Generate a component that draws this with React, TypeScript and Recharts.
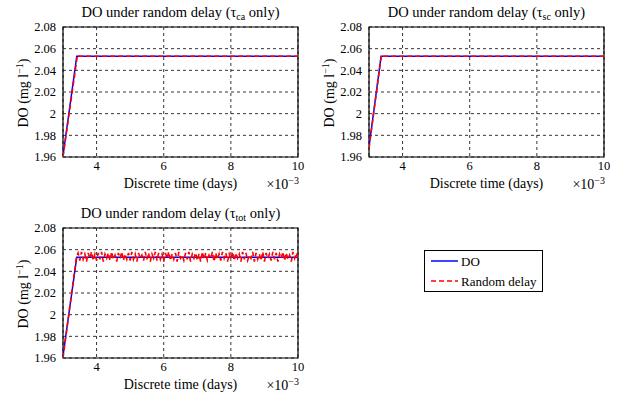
import React from "react"
import { LineChart, Line, XAxis, YAxis, CartesianGrid, ReferenceArea } from "recharts"

const xTicks = [4, 6, 8, 10]
const yTicks = [1.96, 1.98, 2, 2.02, 2.04, 2.06, 2.08]

// tau_ca only
const doCaTime = [3, 3.41, 10]
const doCa = [1.961, 2.053, 2.053]
const delayCaTime = [3, 3.43, 3.5, 10]
const delayCa = [1.96, 2.054, 2.053, 2.053]

// tau_sc only
const doScTime = [3, 3.36, 10]
const doSc = [1.969, 2.053, 2.053]
const delayScTime = [3, 3.37, 3.45, 10]
const delaySc = [1.968, 2.054, 2.053, 2.053]

// tau_tot only
const doTotTime = [3, 3.41, 10]
const doTot = [1.962, 2.053, 2.053]
const delayTotTime = [
  3, 3.4, 3.45, 3.5, 3.55, 3.6, 3.65, 3.7, 3.75, 3.8, 3.85, 3.9, 3.95,
  4, 4.05, 4.1, 4.15, 4.2, 4.25, 4.3, 4.35, 4.4, 4.45, 4.5, 4.55, 4.6, 4.65, 4.7, 4.75, 4.8, 4.85, 4.9, 4.95,
  5, 5.05, 5.1, 5.15, 5.2, 5.25, 5.3, 5.35, 5.4, 5.45, 5.5, 5.55, 5.6, 5.65, 5.7, 5.75, 5.8, 5.85, 5.9, 5.95,
  6, 6.05, 6.1, 6.15, 6.2, 6.25, 6.3, 6.35, 6.4, 6.45, 6.5, 6.55, 6.6, 6.65, 6.7, 6.75, 6.8, 6.85, 6.9, 6.95,
  7, 7.05, 7.1, 7.15, 7.2, 7.25, 7.3, 7.35, 7.4, 7.45, 7.5, 7.55, 7.6, 7.65, 7.7, 7.75, 7.8, 7.85, 7.9, 7.95,
  8, 8.05, 8.1, 8.15, 8.2, 8.25, 8.3, 8.35, 8.4, 8.45, 8.5, 8.55, 8.6, 8.65, 8.7, 8.75, 8.8, 8.85, 8.9, 8.95,
  9, 9.05, 9.1, 9.15, 9.2, 9.25, 9.3, 9.35, 9.4, 9.45, 9.5, 9.55, 9.6, 9.65, 9.7, 9.75, 9.8, 9.85, 9.9, 9.95,
  10,
]
const delayTot = [
  1.96, 2.053, 2.057, 2.05, 2.058, 2.051, 2.056, 2.049, 2.057, 2.052, 2.058, 2.05, 2.056,
  2.05, 2.057, 2.051, 2.058, 2.049, 2.056, 2.052, 2.057, 2.05, 2.058, 2.051, 2.055, 2.049, 2.057, 2.052, 2.058, 2.05, 2.056, 2.051, 2.057,
  2.05, 2.058, 2.051, 2.056, 2.049, 2.057, 2.052, 2.055, 2.05, 2.058, 2.051, 2.057, 2.049, 2.056, 2.052, 2.058, 2.05, 2.057, 2.051, 2.056,
  2.049, 2.057, 2.052, 2.058, 2.05, 2.056, 2.051, 2.057, 2.049, 2.058, 2.052, 2.055, 2.05, 2.057, 2.051, 2.058, 2.049, 2.056, 2.052, 2.057,
  2.05, 2.056, 2.049, 2.058, 2.051, 2.057, 2.05, 2.055, 2.052, 2.058, 2.049, 2.057, 2.051, 2.056, 2.05, 2.058, 2.052, 2.057, 2.049, 2.056,
  2.051, 2.058, 2.05, 2.057, 2.052, 2.056, 2.049, 2.058, 2.051, 2.057, 2.05, 2.055, 2.052, 2.058, 2.049, 2.057, 2.051, 2.056, 2.05, 2.058,
  2.049, 2.057, 2.052, 2.056, 2.05, 2.058, 2.051, 2.057, 2.049, 2.056, 2.052, 2.058, 2.05, 2.057, 2.051, 2.055, 2.049, 2.058, 2.052, 2.057,
  2.051,
]

const FONT = '"Liberation Serif", "Times New Roman", serif'
const BLUE = "#0000ff"
const RED = "#ff0000"

const toPoints = (t: number[], v: number[]) => t.map((x, i) => ({ t: x, v: v[i] }))

function Panel({
  left,
  top,
  sub,
  doT,
  doV,
  rdT,
  rdV,
}: {
  left: number
  top: number
  sub: string
  doT: number[]
  doV: number[]
  rdT: number[]
  rdV: number[]
}) {
  const plotL = 63
  const plotR = 298
  const mid = (plotL + plotR) / 2
  const center: React.CSSProperties = {
    position: "absolute",
    transform: "translate(-50%, -50%)",
    whiteSpace: "nowrap",
    fontSize: 14,
    lineHeight: 1,
  }
  return (
    <div style={{ position: "absolute", left, top, width: 310, height: 200 }}>
      <LineChart width={310} height={200} margin={{ top: 27, right: 12, bottom: 13, left: 0 }}>
        <CartesianGrid stroke="#000" strokeDasharray="3 3" strokeWidth={0.8} />
        <XAxis
          type="number"
          dataKey="t"
          domain={[3, 10]}
          ticks={xTicks}
          interval={0}
          allowDataOverflow
          height={30}
          axisLine={false}
          tickLine={false}
          tickSize={4}
          tickMargin={0}
          tick={{ fill: "#000", fontSize: 12.5 }}
        />
        <YAxis
          type="number"
          domain={[1.96, 2.08]}
          ticks={yTicks}
          interval={0}
          allowDataOverflow
          width={63}
          axisLine={false}
          tickLine={false}
          tickSize={5}
          tickMargin={2}
          tick={{ fill: "#000", fontSize: 12.5 }}
        />
        <Line data={toPoints(doT, doV)} dataKey="v" stroke={BLUE} strokeWidth={1.5} dot={false} isAnimationActive={false} />
        <Line
          data={toPoints(rdT, rdV)}
          dataKey="v"
          stroke={RED}
          strokeWidth={1.6}
          strokeDasharray="5 3"
          dot={false}
          isAnimationActive={false}
        />
        <ReferenceArea x1={3} x2={10} y1={1.96} y2={2.08} fill="none" stroke="#000" strokeWidth={1.2} strokeOpacity={1} />
      </LineChart>
      <div style={{ ...center, left: mid, top: 13, fontSize: 14.5 }}>
        DO under random delay (τ<sub style={{ fontSize: 10, verticalAlign: "-3px" }}>{sub}</sub> only)
      </div>
      <div style={{ ...center, left: mid, top: 184 }}>Discrete time (days)</div>
      <div style={{ position: "absolute", right: 11, top: 176, fontSize: 14, lineHeight: 1, whiteSpace: "nowrap" }}>
        ×10<sup style={{ fontSize: 10, verticalAlign: "5px" }}>−3</sup>
      </div>
      <div style={{ ...center, left: 23, top: 93, transform: "translate(-50%, -50%) rotate(-90deg)" }}>
        DO (mg l<sup style={{ fontSize: 10, verticalAlign: "5px" }}>−1</sup>)
      </div>
    </div>
  )
}

export default function App() {
  return (
    <div
      style={{
        position: "absolute",
        left: 0,
        top: 0,
        width: 618,
        height: 400,
        background: "#fff",
        fontFamily: FONT,
        color: "#000",
      }}
    >
      <Panel left={0} top={0} sub="ca" doT={doCaTime} doV={doCa} rdT={delayCaTime} rdV={delayCa} />
      <Panel left={306} top={0} sub="sc" doT={doScTime} doV={doSc} rdT={delayScTime} rdV={delaySc} />
      <Panel left={0} top={201} sub="tot" doT={doTotTime} doV={doTot} rdT={delayTotTime} rdV={delayTot} />
      <div
        style={{
          position: "absolute",
          left: 424,
          top: 250,
          width: 117,
          height: 40,
          border: "1px solid #000",
          fontSize: 13,
        }}
      >
        <svg width={117} height={40} style={{ position: "absolute", left: 0, top: 0 }}>
          <line x1={6} x2={33} y1={10} y2={10} stroke={BLUE} strokeWidth={1.5} />
          <line x1={6} x2={33} y1={30} y2={30} stroke={RED} strokeWidth={1.5} strokeDasharray="5 3" />
          <text x={36} y={14.5} fontSize={13} fill="#000">
            DO
          </text>
          <text x={36} y={34.5} fontSize={13} fill="#000">
            Random delay
          </text>
        </svg>
      </div>
    </div>
  )
}
